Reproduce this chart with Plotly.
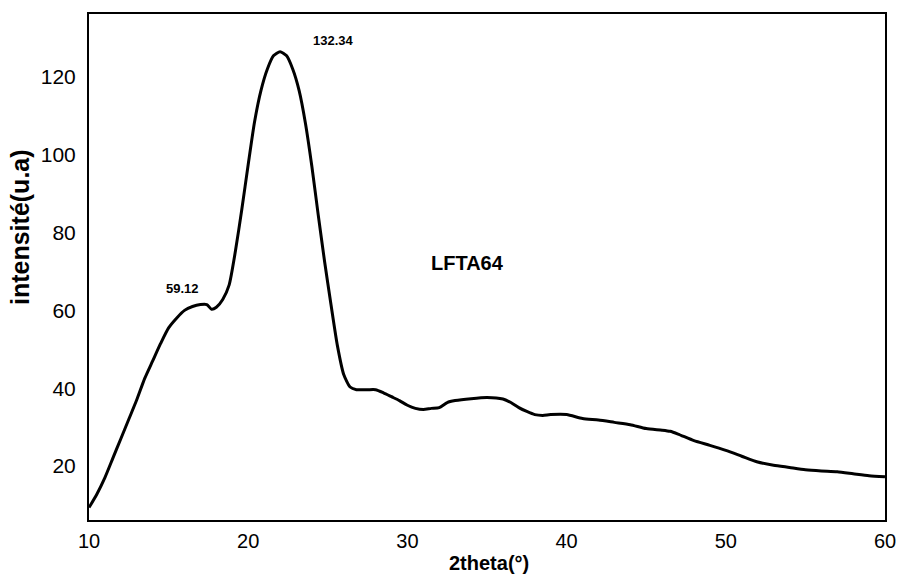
import plotly.graph_objects as go

two_theta = [10, 10.5, 11, 11.5, 12, 12.5, 13, 13.5, 14, 14.5, 15, 15.5, 16, 16.5, 17, 17.4, 17.7,
             18.0, 18.4, 18.8, 19.2, 19.6, 20.0, 20.4, 20.8, 21.2, 21.6, 22.0, 22.4, 22.8, 23.2,
             23.6, 24.0, 24.4, 24.8, 25.2, 25.6, 26.0, 26.4, 26.8, 27.5, 28.0, 28.5, 29.0, 29.5,
             30.0, 30.5, 31.0, 31.5, 32.0, 32.5, 33.0, 34.0, 35.0, 36.0, 36.5, 37.0, 37.5, 38.0,
             38.5, 39.0, 40.0, 41.0, 42.0, 43.0, 44.0, 45.0, 46.0, 46.5, 47.0, 48.0, 49.0, 50.0,
             51.0, 52.0, 53.0, 54.0, 55.0, 56.0, 57.0, 58.0, 59.0, 60.0]
intensity = [9.3, 12.8, 17.0, 22.0, 27.0, 32.0, 37.0, 42.5, 47.0, 51.5, 55.5, 58.0, 60.0, 61.0,
             61.5, 61.5, 60.3, 60.8, 62.8, 66.5, 75.3, 86.0, 97.5, 108.5, 116.5, 122.0, 125.5,
             126.5, 125.5, 122.0, 116.5, 108.0, 97.0, 84.5, 72.5, 61.5, 51.0, 43.5, 40.3, 39.6,
             39.6, 39.6, 38.8, 37.8, 36.8, 35.6, 34.8, 34.5, 34.8, 35.0, 36.3, 36.8, 37.3, 37.6,
             37.2, 36.3, 35.0, 34.0, 33.2, 33.0, 33.2, 33.2, 32.2, 31.8, 31.2, 30.6, 29.6, 29.2,
             28.9, 28.2, 26.5, 25.3, 24.0, 22.5, 21.0, 20.2, 19.6, 19.0, 18.7, 18.5, 18.0, 17.5,
             17.2]

x_ticks = [10, 20, 30, 40, 50, 60]
y_ticks = [20, 40, 60, 80, 100, 120]

ann_text = ["132.34", "59.12", "LFTA64"]
ann_x = [25.33, 15.9, 33.75]
ann_y = [129.5, 65.7, 72.1]
ann_size = [13, 13, 20]

x_title = "2theta(°)"
y_title = "intensité(u.a)"

FONT = "Liberation Sans, Arial"

fig = go.Figure()
fig.add_trace(go.Scatter(x=two_theta, y=intensity, mode="lines",
                         line=dict(color="black", width=3, shape="spline", smoothing=0.6),
                         showlegend=False, hoverinfo="skip"))

for t, xx, yy, s in zip(ann_text, ann_x, ann_y, ann_size):
    fig.add_annotation(x=xx, y=yy, text=f"<b>{t}</b>", showarrow=False,
                       font=dict(family=FONT, size=s, color="black"))

# axis titles as paper annotations
fig.add_annotation(xref="paper", yref="paper", x=0.5025, y=-0.085, text=f"<b>{x_title}</b>",
                   showarrow=False, xanchor="center", yanchor="middle",
                   font=dict(family=FONT, size=20, color="black"))
fig.add_annotation(xref="paper", yref="paper", x=-0.0867, y=0.579, text=f"<b>{y_title}</b>",
                   textangle=-90, showarrow=False, xanchor="center", yanchor="middle",
                   font=dict(family=FONT, size=25, color="black"))

axis_common = dict(showgrid=False, zeroline=False, showline=True, linecolor="black",
                   linewidth=2, mirror=True, ticks="", automargin=False)

fig.update_xaxes(range=[10, 60], tickvals=x_ticks, ticktext=[str(v) for v in x_ticks],
                 ticklabelstandoff=2,
                 tickfont=dict(family=FONT, size=20, color="black"),
                 **axis_common)
fig.update_yaxes(range=[6.1, 136.2], tickvals=y_ticks, ticktext=[str(v) for v in y_ticks],
                 ticklabelstandoff=7,
                 tickfont=dict(family=FONT, size=21, color="black"),
                 **axis_common)

fig.update_layout(width=903, height=576, margin=dict(l=89, r=18, t=14, b=56),
                  plot_bgcolor="white", paper_bgcolor="white")

fig.write_html("out.html", config={"displayModeBar": False},
               post_script="document.body.style.margin='0';document.body.style.overflow='hidden';")
